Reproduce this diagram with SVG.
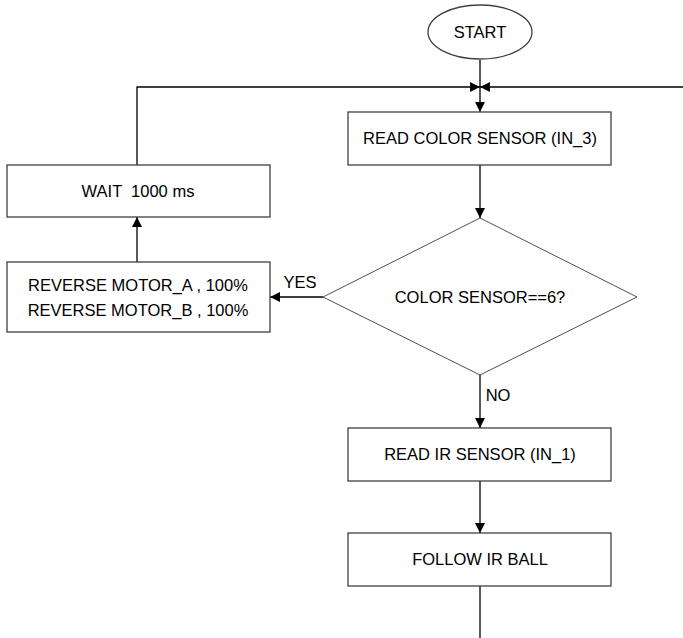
<svg xmlns="http://www.w3.org/2000/svg" width="683" height="638" viewBox="0 0 683 638">
<style>
.box{fill:#fff;stroke:#404040;stroke-width:1.3}
.dia{fill:#fff;stroke:#505050;stroke-width:1}
.ln{fill:none;stroke:#000;stroke-width:1.3}
text{font-family:"Liberation Sans",Arial,sans-serif;font-size:16.5px;fill:#000;text-anchor:middle;white-space:pre}
</style>
<defs>
<marker id="ah" viewBox="0 0 10 10" refX="10" refY="5" markerWidth="10" markerHeight="10" markerUnits="userSpaceOnUse" orient="auto">
<path d="M0,0 L10,5 L0,10 Z" fill="#000"/>
</marker>
</defs>
<g id="connectors">
<line class="ln" x1="480" y1="60" x2="480" y2="112" marker-end="url(#ah)"/>
<polyline class="ln" points="137,165 137,87 480,87" marker-end="url(#ah)"/>
<line class="ln" x1="683" y1="87" x2="480" y2="87" marker-end="url(#ah)"/>
<line class="ln" x1="480" y1="165" x2="480" y2="218" marker-end="url(#ah)"/>
<line class="ln" x1="323" y1="297" x2="270" y2="297" marker-end="url(#ah)"/>
<line class="ln" x1="137" y1="262" x2="137" y2="217" marker-end="url(#ah)"/>
<line class="ln" x1="480" y1="375" x2="480" y2="428" marker-end="url(#ah)"/>
<line class="ln" x1="480" y1="481" x2="480" y2="533" marker-end="url(#ah)"/>
<line class="ln" x1="480" y1="586" x2="480" y2="638" stroke="#555"/>
<text x="300" y="288">YES</text>
<text x="498" y="401">NO</text>
</g>
<g id="start">
<ellipse cx="480" cy="32" rx="52" ry="27" class="box"/>
<text x="480" y="38">START</text>
</g>
<g id="read-color">
<rect x="348" y="112" width="263" height="53" class="box"/>
<text x="480" y="144">READ COLOR SENSOR (IN_3)</text>
</g>
<g id="decision">
<polygon points="480,218 637,297 480,375 323,297" class="dia"/>
<text x="480" y="303">COLOR SENSOR==6?</text>
</g>
<g id="reverse">
<rect x="7" y="262" width="263" height="70" class="box"/>
<text x="138" y="291">REVERSE MOTOR_A , 100%</text>
<text x="138" y="316">REVERSE MOTOR_B , 100%</text>
</g>
<g id="wait">
<rect x="7" y="165" width="263" height="52" class="box"/>
<text x="138" y="197" xml:space="preserve">WAIT  1000 ms</text>
</g>
<g id="read-ir">
<rect x="348" y="428" width="263" height="53" class="box"/>
<text x="480" y="460">READ IR SENSOR (IN_1)</text>
</g>
<g id="follow">
<rect x="348" y="533" width="263" height="53" class="box"/>
<text x="480" y="565">FOLLOW IR BALL</text>
</g>
</svg>
